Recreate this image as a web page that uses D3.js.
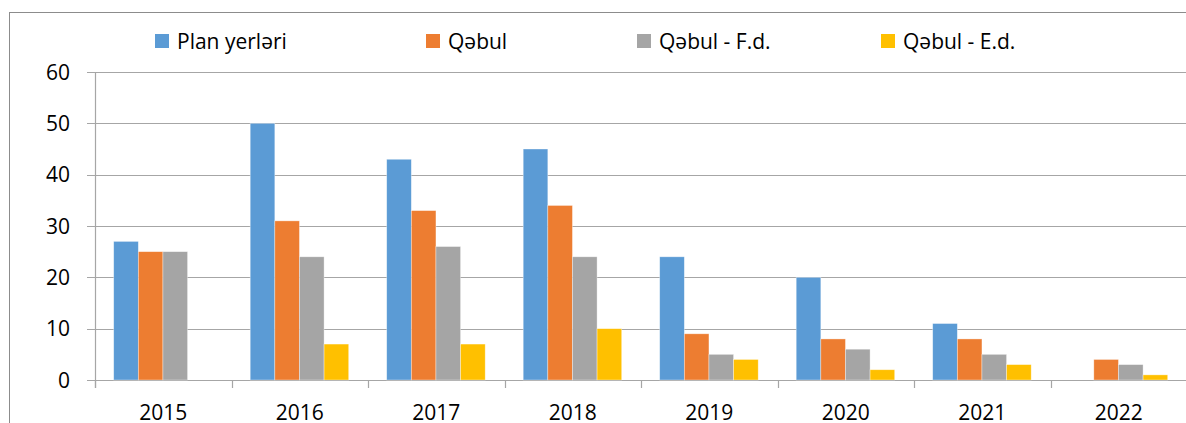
<!DOCTYPE html>
<html>
<head>
<meta charset="utf-8">
<script src="https://cdn.jsdelivr.net/npm/d3@7"></script>
<style>
  html, body { margin: 0; padding: 0; background: #fff; overflow: hidden; }
  text { font-family: "Open Sans", Lato, sans-serif; fill: #000; }
</style>
</head>
<body>
<div id="chart"></div>
<script>
// data
const years = ['2015', '2016', '2017', '2018', '2019', '2020', '2021', '2022'];
const seriesNames = ['Plan yerləri', 'Qəbul', 'Qəbul - F.d.', 'Qəbul - E.d.'];
const planYerleri = [27, 50, 43, 45, 24, 20, 11, 0];
const qebul = [25, 31, 33, 34, 9, 8, 8, 4];
const qebulFd = [25, 24, 26, 24, 5, 6, 5, 3];
const qebulEd = [0, 7, 7, 10, 4, 2, 3, 1];
const yTicks = [0, 10, 20, 30, 40, 50, 60];

const colors = ['#5B9BD5', '#ED7D31', '#A5A5A5', '#FFC000'];
const allSeries = [planYerleri, qebul, qebulFd, qebulEd];

const W = 1186, H = 423;
const margin = {top: 72, left: 95};
const plotW = 8 * 136.5;
const plotH = 380 - 72;

const svg = d3.select('#chart')
    .append('svg')
    .attr('width', W)
    .attr('height', H);

// outer chart frame (right part is cropped in the reference)
svg.append('rect')
    .attr('x', 9.5).attr('y', 12.5)
    .attr('width', 1300).attr('height', 500)
    .attr('fill', 'none')
    .attr('stroke', '#8c8c8c')
    .attr('stroke-width', 1);

const g = svg.append('g')
    .attr('transform', `translate(${margin.left},${margin.top})`);

const x0 = d3.scaleBand()
    .domain(years)
    .range([0, plotW]);

const x1 = d3.scaleBand()
    .domain(d3.range(seriesNames.length))
    .range([18.7, x0.bandwidth() - 19.3]);

const y = d3.scaleLinear()
    .domain([0, 60])
    .range([plotH, 0]);

// gridlines
g.append('g')
    .selectAll('line')
    .data(yTicks)
    .join('line')
    .attr('x1', -8)
    .attr('x2', plotW)
    .attr('y1', d => Math.round(y(d)) + 0.5)
    .attr('y2', d => Math.round(y(d)) + 0.5)
    .attr('stroke', '#a6a6a6')
    .attr('stroke-width', 1.2);

// y labels
g.append('g')
    .selectAll('text')
    .data(yTicks)
    .join('text')
    .attr('x', -25)
    .attr('y', d => y(d))
    .attr('dy', '0.36em')
    .attr('text-anchor', 'end')
    .style('font-size', '21px')
    .text(d => d);

// bars
const groups = g.append('g')
    .selectAll('g')
    .data(years)
    .join('g')
    .attr('transform', d => `translate(${x0(d)},0)`);

groups.selectAll('rect')
    .data((d, i) => allSeries.map((s, k) => ({k, v: s[i]})))
    .join('rect')
    .attr('x', d => x1(d.k))
    .attr('width', x1.bandwidth())
    .attr('y', d => y(d.v))
    .attr('height', d => y(0) - y(d.v))
    .attr('fill', d => colors[d.k])
    .attr('stroke', '#fff')
    .attr('stroke-opacity', 0.5)
    .attr('stroke-width', 0.7);

// y axis line
g.append('line')
    .attr('x1', 0.5).attr('x2', 0.5)
    .attr('y1', 0).attr('y2', plotH + 8)
    .attr('stroke', '#a6a6a6')
    .attr('stroke-width', 1.2);

// category tick marks
g.append('g')
    .selectAll('line')
    .data(years)
    .join('line')
    .attr('x1', d => Math.round(x0(d)) + 0.5)
    .attr('x2', d => Math.round(x0(d)) + 0.5)
    .attr('y1', plotH)
    .attr('y2', plotH + 8)
    .attr('stroke', '#a6a6a6')
    .attr('stroke-width', 1.2);

// category labels
g.append('g')
    .selectAll('text')
    .data(years)
    .join('text')
    .attr('x', d => x0(d) + x0.bandwidth() / 2)
    .attr('y', plotH + 40)
    .attr('text-anchor', 'middle')
    .style('font-size', '21px')
    .text(d => d);

// legend
const legendX = [155, 426, 637, 881];
const legend = svg.append('g')
    .selectAll('g')
    .data(seriesNames)
    .join('g')
    .attr('transform', (d, i) => `translate(${legendX[i]},34)`);

legend.append('rect')
    .attr('width', 14)
    .attr('height', 14)
    .attr('fill', (d, i) => colors[i]);

legend.append('text')
    .attr('x', 22)
    .attr('y', 14.5)
    .style('font-size', '21px')
    .text(d => d);
</script>
</body>
</html>
